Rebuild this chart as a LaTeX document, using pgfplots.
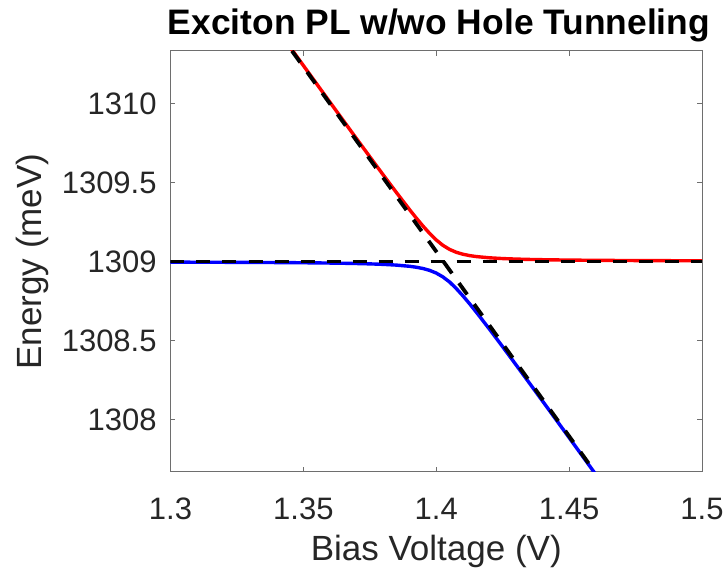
\documentclass[border=0pt]{standalone}
\usepackage{fontspec}
\setmainfont{Liberation Sans}
\usepackage{pgfplots}
\pgfplotsset{compat=1.18}

\definecolor{axisgray}{RGB}{110,110,110}
\definecolor{labelgray}{RGB}{38,38,38}

% Upper and lower exciton branches (meV) versus bias (V)
\pgfplotstableread{
V       Eup        Elow
1.300   1311.4073  1308.9958
1.310   1311.1738  1308.9954
1.320   1310.9403  1308.9949
1.330   1310.7070  1308.9941
1.340   1310.4740  1308.9932
1.345   1310.3576  1308.9926
1.350   1310.2412  1308.9920
1.355   1310.1251  1308.9911
1.360   1310.0091  1308.9901
1.365   1309.8934  1308.9888
1.370   1309.7780  1308.9871
1.375   1309.6633  1308.9849
1.380   1309.5494  1308.9818
1.385   1309.4371  1308.9771
1.390   1309.3277  1308.9695
1.3925  1309.2750  1308.9636
1.395   1309.2247  1308.9555
1.3975  1309.1779  1308.9438
1.400   1309.1365  1308.9267
1.4025  1309.1024  1308.9023
1.405   1309.0767  1308.8705
1.4075  1309.0585  1308.8292
1.410   1309.0461  1308.7831
1.4125  1309.0375  1308.7332
1.415   1309.0313  1308.6809
1.420   1309.0234  1308.5718
1.425   1309.0185  1308.4597
1.430   1309.0153  1308.3459
1.435   1309.0130  1308.2312
1.440   1309.0113  1308.1159
1.445   1309.0100  1308.0002
1.450   1309.0090  1307.8842
1.455   1309.0081  1307.7681
1.460   1309.0074  1307.6518
1.465   1309.0068  1307.5354
1.470   1309.0063  1307.4189
1.480   1309.0055  1307.2
1.490   1309.0049  1307.0
1.500   1309.0044  1306.8
}\branches

\begin{document}
\begin{tikzpicture}
\useasboundingbox (-85.25pt,-50pt) rectangle (278.75pt,236pt);
\begin{axis}[
  scale only axis,
  width=265.75pt, height=210.5pt,
  xmin=1.3, xmax=1.5,
  ymin=1307.6667, ymax=1310.3333,
  xtick={1.3,1.35,1.4,1.45,1.5},
  xticklabels={1.3,1.35,1.4,1.45,1.5},
  ytick={1308,1308.5,1309,1309.5,1310},
  yticklabels={1308,1308.5,1309,1309.5,1310},
  tick align=inside,
  major tick length=2.5pt,
  axis line style={axisgray, line width=0.5pt},
  every tick/.style={axisgray, line width=0.5pt},
  tick label style={font=\fontsize{15.5}{18}\selectfont, text=labelgray, inner sep=0pt},
  xticklabel style={anchor=base, yshift=-24pt},
  yticklabel style={anchor=east, xshift=-6.75pt},
  xlabel={Bias Voltage (V)},
  ylabel={Energy (meV)},
  label style={font=\fontsize{17.5}{20}\selectfont, text=labelgray, inner sep=0pt},
  xlabel style={at={(axis description cs:0.5,-0.2114)}, anchor=base},
  ylabel style={at={(axis description cs:-0.2418,0.5)}, anchor=base, rotate=0},
  title={Exciton PL w/wo Hole Tunneling},
  title style={font=\fontsize{17.7}{20}\selectfont\bfseries, inner sep=0pt,
    at={(axis description cs:0.505,1.0309)}, anchor=base, yshift=-4.5pt},
]
\addplot[red, line width=1.7pt] table[x=V, y=Eup] {\branches};
\addplot[blue, line width=1.7pt] table[x=V, y=Elow] {\branches};
% uncoupled states
\addplot[black, line width=1.9pt, dash pattern=on 7pt off 6pt]
  coordinates {(1.3,1309) (1.5,1309)};
\addplot[black, line width=1.9pt, dash pattern=on 7pt off 6pt]
  coordinates {(1.3,1311.4032) (1.5,1306.7232)};
\end{axis}
\end{tikzpicture}
\end{document}
